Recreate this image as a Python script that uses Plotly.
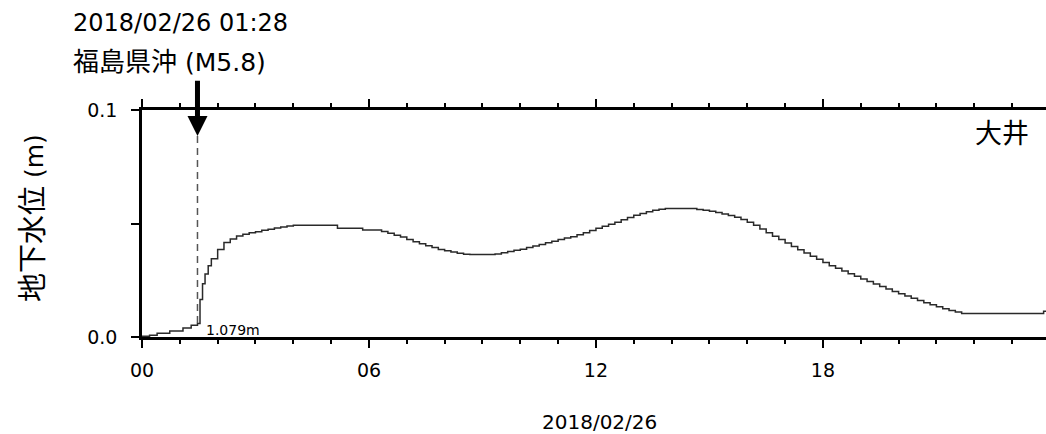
import plotly.graph_objects as go

# ---- data ----
early_minutes = [0, 12, 24, 44, 65, 78, 88, 92, 96, 100, 105, 110]
early_mm = [0.3, 0.8, 1.6, 2.6, 4.0, 5.2, 6.0, 16.5, 23.5, 27.8, 31.4, 34.5]
regular_minutes = list(range(120, 1441, 10))
regular_mm = [
    38.6, 41.6, 43.2, 44.5, 45.3, 45.9,   # 02h
    46.4, 47.0, 47.5, 48.0, 48.5, 48.9,   # 03h
    49.2, 49.2, 49.2, 49.2, 49.2, 49.2,   # 04h
    49.2, 47.9, 47.9, 47.9, 47.9, 47.1,   # 05h
    47.1, 47.1, 46.5, 45.7, 44.8, 44.0,   # 06h
    43.0, 42.0, 41.1, 40.2, 39.4, 38.6,   # 07h
    38.0, 37.4, 36.9, 36.5, 36.3, 36.3,   # 08h
    36.3, 36.3, 36.6, 37.1, 37.7, 38.2,   # 09h
    38.7, 39.4, 40.1, 40.8, 41.5, 42.2,   # 10h
    42.9, 43.6, 44.2, 45.0, 45.9, 46.9,   # 11h
    47.9, 48.8, 49.7, 50.6, 51.7, 52.6,   # 12h
    53.6, 54.4, 55.2, 55.8, 56.3, 56.6,   # 13h
    56.6, 56.6, 56.6, 56.6, 56.2, 55.8,   # 14h
    55.4, 54.9, 54.2, 53.5, 52.7, 51.8,   # 15h
    50.6, 49.2, 47.6, 45.9, 44.4, 42.9,   # 16h
    41.4, 39.9, 38.4, 37.0, 35.6, 34.2,   # 17h
    32.8, 31.4, 30.3, 29.1, 27.9, 26.8,   # 18h
    25.6, 24.4, 23.3, 22.2, 21.1, 20.0,   # 19h
    19.0, 18.1, 17.1, 16.1, 15.1, 14.2,   # 20h
    13.3, 12.5, 11.7, 11.0, 10.3, 10.3,   # 21h
    10.3, 10.3, 10.3, 10.3, 10.3, 10.3,   # 22h
    10.3, 10.3, 10.3, 10.3, 10.3, 11.3,   # 23h
    12.0,                                 # 24h
]
quake_hour = 1 + 28 / 60
quake_level_mm = 6.2
quake_label = "1.079m"
station = "大井"
quake_date = "2018/02/26 01:28"
quake_place = "福島県沖"
quake_mag = "(M5.8)"
x_title = "2018/02/26"
y_title_jp = "地下水位"
y_title_unit = "(m)"
x_tick_vals = [0, 6, 12, 18]
x_tick_text = ["00", "06", "12", "18"]
y_tick_vals = [0.0, 0.05, 0.1]
y_tick_text = ["0.0", "", "0.1"]

hours = [m / 60 for m in early_minutes + regular_minutes]
levels = [v / 1000 for v in early_mm + regular_mm]

# ---- layout helpers ----
W, H = 1046, 434
L, R, T, B = 142, 1046, 110, 337
def px(x):
    return (x - L) / (R - L)
def py(y):
    return (B - y) / (B - T)

LAT = "DejaVu Sans, Noto Sans CJK JP"
CJK = "Noto Sans CJK JP"

fig = go.Figure()
fig.add_trace(go.Scatter(
    x=hours, y=levels, mode="lines", line_shape="hv",
    line=dict(color="#2a2a2a", width=1.5), hoverinfo="skip", showlegend=False,
))

fig.add_shape(type="line", xref="x", yref="y",
              x0=quake_hour, x1=quake_hour, y0=quake_level_mm / 1000, y1=0.089,
              line=dict(color="#555555", width=1.5, dash="7px,5px"))

y_title_html = (
    f"<span style='font-family:{CJK};font-size:29px'>{y_title_jp}</span> {y_title_unit}"
)

ann = [
    dict(x=quake_hour, y=0.0885, xref="x", yref="y",
         ax=quake_hour, ay=0.1135, axref="x", ayref="y",
         text="", showarrow=True, arrowhead=2, arrowsize=0.8,
         arrowwidth=5, arrowcolor="black"),
    dict(x=px(71), y=py(23), xref="paper", yref="paper", text=quake_date,
         showarrow=False, xanchor="left", yanchor="middle",
         font=dict(size=24, color="black", family=LAT)),
    dict(x=px(71), y=py(59), xref="paper", yref="paper",
         text=f"<span style='font-family:{CJK};font-size:26px'>{quake_place}</span> {quake_mag}",
         showarrow=False, xanchor="left", yanchor="middle",
         font=dict(size=25, color="black", family=LAT)),
    dict(x=px(1031), y=py(131), xref="paper", yref="paper", text=station,
         showarrow=False, xanchor="right", yanchor="middle",
         font=dict(size=27, color="black", family=CJK)),
    dict(x=px(204), y=py(330), xref="paper", yref="paper", text=quake_label,
         showarrow=False, xanchor="left", yanchor="middle",
         font=dict(size=14, color="black", family=LAT)),
    dict(x=px(599), y=py(422), xref="paper", yref="paper", text=x_title,
         showarrow=False, xanchor="center", yanchor="middle",
         font=dict(size=20, color="black", family=LAT)),
    dict(x=px(30), y=py(218), xref="paper", yref="paper",
         text=y_title_html,
         showarrow=False, xanchor="center", yanchor="middle", textangle=-90,
         font=dict(size=25, color="black", family=LAT)),
]

fig.update_layout(
    width=W, height=H,
    margin=dict(l=L, r=W - R, t=T, b=H - B, pad=0),
    paper_bgcolor="white", plot_bgcolor="white",
    annotations=ann,
    font=dict(family=LAT, color="black"),
    xaxis=dict(
        range=[0, (R - L) / 37.83], showgrid=False, zeroline=False,
        showline=True, linewidth=2.5, linecolor="black", mirror="ticks",
        tickmode="array", tickvals=x_tick_vals, ticktext=x_tick_text,
        ticks="outside", ticklen=8, tickwidth=1.5, tickcolor="black",
        ticklabelstandoff=6,
        tickfont=dict(size=19, family=LAT, color="black"),
        minor=dict(dtick=1, ticks="outside", ticklen=4, tickwidth=1.5,
                   tickcolor="black", showgrid=False),
    ),
    yaxis=dict(
        range=[0, 0.1], showgrid=False, zeroline=False,
        showline=True, linewidth=2.5, linecolor="black", mirror=False,
        tickmode="array", tickvals=y_tick_vals, ticktext=y_tick_text,
        ticks="outside", ticklen=8, tickwidth=1.5, tickcolor="black",
        ticklabelstandoff=10,
        tickfont=dict(size=19, family=LAT, color="black"),
    ),
)

fig.write_html(
    "out.html",
    config={"displayModeBar": False},
    post_script="document.body.style.margin='0';document.body.style.overflow='hidden';",
)
